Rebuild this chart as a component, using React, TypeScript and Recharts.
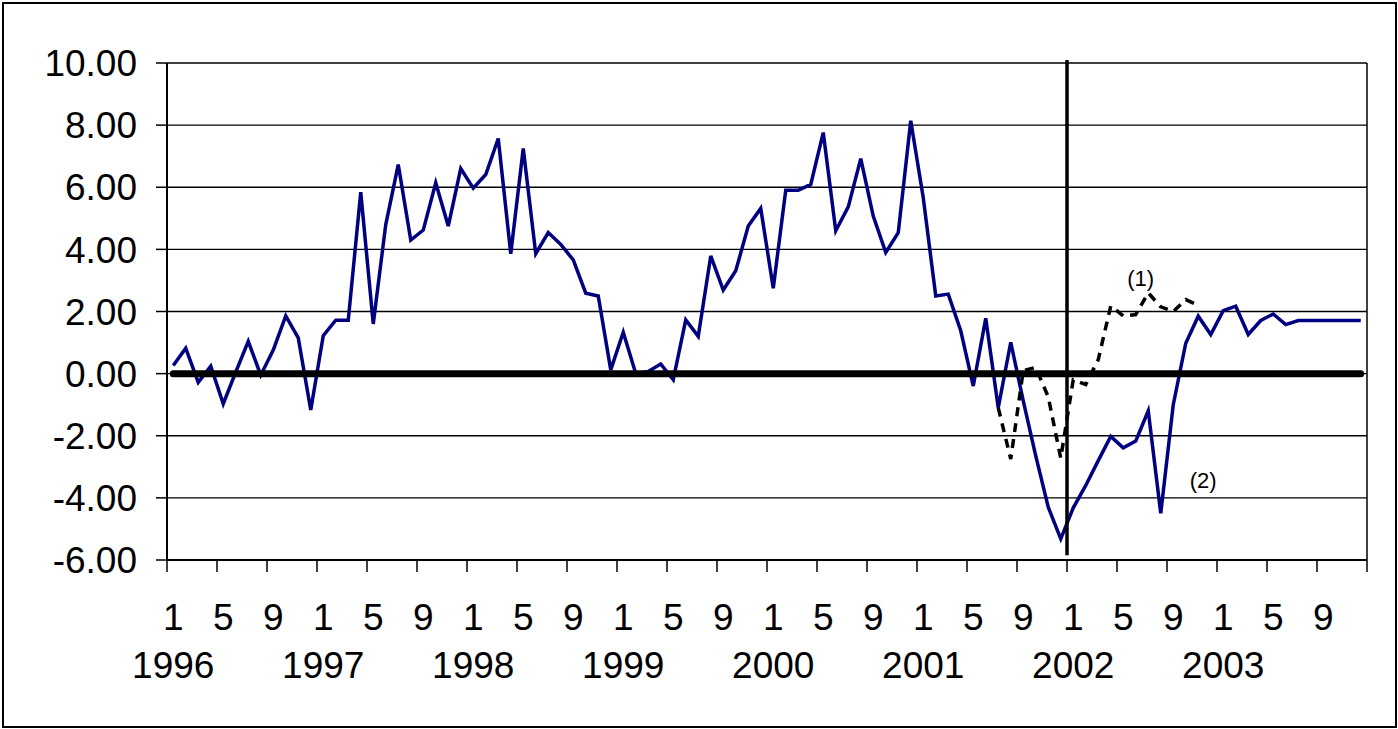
import React from "react";
import {
  LineChart,
  Line,
  XAxis,
  YAxis,
  CartesianGrid,
  ReferenceLine,
  ReferenceDot,
} from "recharts";

// monthly values, Jan 1996 .. Dec 2003 (series 2, solid blue)
const actual = [
  0.26, 0.82, -0.28, 0.24, -0.97, 0.05, 1.04, -0.05, 0.76, 1.86, 1.15, -1.17,
  1.22, 1.72, 1.72, 5.84, 1.6, 4.8, 6.73, 4.3, 4.62, 6.14, 4.75, 6.6,
  5.97, 6.41, 7.57, 3.86, 7.25, 3.86, 4.54, 4.16, 3.66, 2.59, 2.5, 0.12,
  1.33, 0.0, 0.07, 0.31, -0.2, 1.73, 1.2, 3.79, 2.69, 3.31, 4.75, 5.32,
  2.75, 5.9, 5.9, 6.09, 7.76, 4.6, 5.37, 6.92, 5.07, 3.9, 4.54, 8.14,
  5.66, 2.5, 2.56, 1.38, -0.4, 1.78, -1.1, 1.01, -0.88, -2.65, -4.3, -5.32,
  -4.32, -3.6, -2.8, -2.02, -2.39, -2.17, -1.2, -4.5, -1.0, 0.98, 1.85, 1.26,
  2.03, 2.17, 1.26, 1.71, 1.92, 1.58, 1.71, 1.71, 1.71, 1.71, 1.71, 1.71,
];

// series 1 (dashed), Jul 2001 .. Nov 2002
const forecastStart = 66;
const forecast = [
  -1.1, -2.75, 0.1, 0.2, -0.75, -2.72, -0.2, -0.35, 0.45, 2.18, 1.86, 1.9,
  2.6, 2.15, 2.0, 2.38, 2.2,
];

const years = ["1996", "1997", "1998", "1999", "2000", "2001", "2002", "2003"];
const monthLabels = ["1", "5", "9"];
const yTicks = [-6, -4, -2, 0, 2, 4, 6, 8, 10];
const xTicks = Array.from({ length: 25 }, (_, i) => i * 4);

const data = actual.map((v, i) => {
  const k = i - forecastStart;
  return {
    x: i + 0.5,
    actual: v,
    zero: 0,
    forecast: k >= 0 && k < forecast.length ? forecast[k] : null,
  };
});

const FONT = "'Liberation Sans', Arial, sans-serif";

const MonthTick = (props: any) => {
  const { x, y, payload } = props;
  const v = payload.value as number;
  if (v >= 96) return null;
  const month = monthLabels[(v % 12) / 4];
  const year = v % 12 === 0 ? years[v / 12] : null;
  return (
    <g>
      <text x={x + 6.25} y={y + 58} textAnchor="middle" fontSize={37} fontFamily={FONT} fill="#000">
        {month}
      </text>
      {year && (
        <text x={x + 6.25} y={y + 106} textAnchor="middle" fontSize={37} fontFamily={FONT} fill="#000">
          {year}
        </text>
      )}
    </g>
  );
};

export default function App() {
  return (
    <div style={{ position: "absolute", left: 0, top: 0, width: 1398, height: 729, background: "#fff" }}>
      <div
        style={{
          position: "absolute",
          left: 2,
          top: 2,
          width: 1395,
          height: 726,
          border: "2px solid #000",
          boxSizing: "border-box",
        }}
      />
      <div style={{ position: "absolute", left: 0, top: 0 }}>
        <LineChart
          width={1398}
          height={729}
          data={data}
          margin={{ top: 63, right: 31, left: 0, bottom: 0 }}
        >
          <CartesianGrid horizontal vertical={false} stroke="#000" strokeWidth={1.4} />
          <XAxis
            dataKey="x"
            type="number"
            domain={[0, 96]}
            ticks={xTicks}
            interval={0}
            height={169}
            tick={<MonthTick />}
            tickSize={12}
            tickMargin={0}
            axisLine={{ stroke: "#000", strokeWidth: 2 }}
            tickLine={{ stroke: "#000", strokeWidth: 1.5 }}
          />
          <YAxis
            type="number"
            domain={[-6, 10]}
            ticks={yTicks}
            interval={0}
            width={167}
            tickSize={11}
            tickMargin={19}
            tickFormatter={(v: number) => v.toFixed(2)}
            tick={{ fontSize: 37, fontFamily: FONT, fill: "#000" }}
            axisLine={{ stroke: "#000", strokeWidth: 2 }}
            tickLine={{ stroke: "#000", strokeWidth: 1.5 }}
          />
          <ReferenceLine x={96} stroke="#000" strokeWidth={1.5} />
          <Line
            dataKey="actual"
            stroke="#000080"
            strokeWidth={3.5}
            dot={false}
            isAnimationActive={false}
          />
          <Line
            dataKey="forecast"
            stroke="#000"
            strokeWidth={3.5}
            strokeDasharray="9 7"
            dot={false}
            isAnimationActive={false}
          />
          <Line
            dataKey="zero"
            stroke="#000"
            strokeWidth={7}
            strokeLinecap="round"
            dot={false}
            isAnimationActive={false}
          />
          <ReferenceLine
            segment={[
              { x: 72, y: 10.1 },
              { x: 72, y: -5.85 },
            ]}
            stroke="#000"
            strokeWidth={3.5}
            ifOverflow="visible"
          />
          <ReferenceDot
            x={77.9}
            y={3.07}
            r={0}
            fill="none"
            stroke="none"
            ifOverflow="visible"
            label={{ value: "(1)", position: "center", fontSize: 22, fontFamily: FONT, fill: "#000" }}
          />
          <ReferenceDot
            x={82.9}
            y={-3.43}
            r={0}
            fill="none"
            stroke="none"
            ifOverflow="visible"
            label={{ value: "(2)", position: "center", fontSize: 22, fontFamily: FONT, fill: "#000" }}
          />
        </LineChart>
      </div>
    </div>
  );
}
